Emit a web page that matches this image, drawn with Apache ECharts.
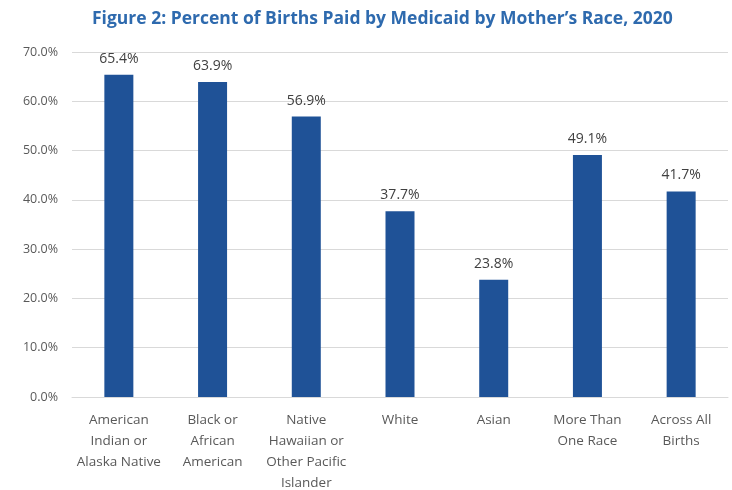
<!DOCTYPE html>
<html><head><meta charset="utf-8">
<script src="https://cdn.jsdelivr.net/npm/echarts@6/dist/echarts.min.js"></script>
<style>html,body{margin:0;padding:0;background:#fff}#c{width:732px;height:490px}</style>
</head><body><div id="c"></div>
<script>
const categories = ["American\nIndian or\nAlaska Native","Black or\nAfrican\nAmerican","Native\nHawaiian or\nOther Pacific\nIslander","White","Asian","More Than\nOne Race","Across All\nBirths"];
const values = [65.4, 63.9, 56.9, 37.7, 23.8, 49.1, 41.7];
const yTicks = {min: 0, max: 70, interval: 10};
const title = "Figure 2: Percent of Births Paid by Medicaid by Mother\u2019s Race, 2020";

const chart = echarts.init(document.getElementById('c'), null, {renderer: 'canvas'});
chart.setOption({
  animation: false,
  title: {text: title, left: 87, top: 5,
    textStyle: {color: '#2E6AAE', fontSize: 17.5, fontWeight: 'bold', fontFamily: 'Open Sans'}},
  grid: {left: 72, right: 4, top: 52, bottom: 93, outerBoundsMode: 'none', containLabel: false},
  xAxis: {type: 'category', data: categories,
    axisLine: {lineStyle: {color: '#D9D9D9'}}, axisTick: {show: false},
    axisLabel: {color: '#595959', fontSize: 13.5, fontFamily: 'Open Sans', lineHeight: 21, margin: 13, interval: 0}},
  yAxis: {type: 'value', min: yTicks.min, max: yTicks.max, interval: yTicks.interval,
    axisLine: {show: false}, axisTick: {show: false},
    splitLine: {lineStyle: {color: '#D9D9D9'}},
    axisLabel: {color: '#595959', fontSize: 12.5, fontFamily: 'Open Sans', margin: 14,
      formatter: v => v.toFixed(1) + '%'}},
  series: [{type: 'bar', data: values, barWidth: 29,
    itemStyle: {color: '#1F5297'},
    label: {show: true, position: 'top', color: '#404040', fontSize: 14, fontFamily: 'Open Sans', distance: 9,
      formatter: p => p.value.toFixed(1) + '%'}}]
});
</script></body></html>
